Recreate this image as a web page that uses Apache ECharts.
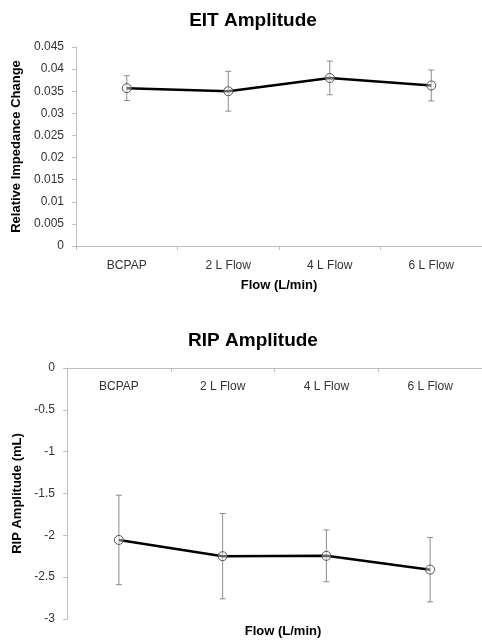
<!DOCTYPE html>
<html>
<head>
<meta charset="utf-8">
<script src="https://cdn.jsdelivr.net/npm/echarts@6/dist/echarts.min.js"></script>
<style>html,body{margin:0;padding:0;background:#fff;}#c{width:482px;height:641px;}</style>
</head>
<body>
<div id="c"></div>
<script>
var categories = ['BCPAP', '2 L Flow', '4 L Flow', '6 L Flow'];
var eitMean = [0.0357, 0.0350, 0.0380, 0.0363];
var eitErr = [0.0028, 0.0045, 0.0038, 0.0035];
var ripMean = [-2.055, -2.249, -2.245, -2.41];
var ripErr = [0.535, 0.51, 0.31, 0.385];
var eitTicks = {min: 0, max: 0.045, interval: 0.005};
var ripTicks = {min: -3, max: 0, interval: 0.5};

var FONT = 'Liberation Sans';
var axisGray = '#bfbfbf';
var labelColor = '#333333';

function errData(mean, err) {
  return mean.map(function (m, i) { return [i, m - err[i], m + err[i]]; });
}
function errRender(params, api) {
  var x = api.value(0);
  var lo = api.coord([x, api.value(1)]);
  var hi = api.coord([x, api.value(2)]);
  var cap = 3;
  var st = {stroke: '#8c8c8c', lineWidth: 1};
  return {
    type: 'group',
    children: [
      {type: 'line', shape: {x1: lo[0], y1: lo[1], x2: hi[0], y2: hi[1]}, style: st},
      {type: 'line', shape: {x1: lo[0] - cap, y1: lo[1], x2: lo[0] + cap, y2: lo[1]}, style: st},
      {type: 'line', shape: {x1: hi[0] - cap, y1: hi[1], x2: hi[0] + cap, y2: hi[1]}, style: st}
    ]
  };
}

var markerStyle = {color: 'rgba(255,255,255,0.4)', borderColor: '#555555', borderWidth: 1};

var chart = echarts.init(document.getElementById('c'), null, {renderer: 'canvas'});
chart.setOption({
  backgroundColor: '#fff',
  animation: false,
  title: [
    {text: 'EIT Amplitude', left: 248, top: 6, textAlign: 'center',
     textStyle: {fontFamily: FONT, fontWeight: 'bold', fontSize: 19, color: '#000'}},
    {text: 'RIP Amplitude', left: 248, top: 326, textAlign: 'center',
     textStyle: {fontFamily: FONT, fontWeight: 'bold', fontSize: 19, color: '#000'}},
    {text: 'Flow (L/min)', left: 278, top: 620, textAlign: 'center',
     textStyle: {fontFamily: FONT, fontWeight: 'bold', fontSize: 13, color: '#000'}}
  ],
  grid: [
    {left: 76, top: 47, width: 406, height: 199},
    {left: 67, top: 368, width: 415, height: 251}
  ],
  xAxis: [
    {type: 'category', gridIndex: 0, data: categories, boundaryGap: true,
     axisLine: {lineStyle: {color: axisGray, width: 1}},
     axisTick: {show: true, length: 4, lineStyle: {color: axisGray}},
     axisLabel: {fontFamily: FONT, fontSize: 12, color: labelColor, margin: 14},
     name: 'Flow (L/min)', nameLocation: 'middle', nameGap: 33,
     nameTextStyle: {fontFamily: FONT, fontWeight: 'bold', fontSize: 13, color: '#000'}},
    {type: 'category', gridIndex: 1, data: categories, boundaryGap: true, position: 'top',
     axisLine: {onZero: false, lineStyle: {color: axisGray, width: 1}},
     axisTick: {show: true, inside: true, length: 4, lineStyle: {color: axisGray}},
     axisLabel: {inside: true, fontFamily: FONT, fontSize: 12, color: labelColor, margin: 13}}
  ],
  yAxis: [
    {type: 'value', gridIndex: 0, min: eitTicks.min, max: eitTicks.max, interval: eitTicks.interval,
     splitLine: {show: false},
     axisLine: {show: true, lineStyle: {color: axisGray}},
     axisTick: {show: true, length: 4, lineStyle: {color: axisGray}},
     axisLabel: {fontFamily: FONT, fontSize: 12, color: labelColor, margin: 12},
     name: 'Relative Impedance Change', nameLocation: 'middle', nameGap: 49,
     nameTextStyle: {fontFamily: FONT, fontWeight: 'bold', fontSize: 13, color: '#000'}},
    {type: 'value', gridIndex: 1, min: ripTicks.min, max: ripTicks.max, interval: ripTicks.interval,
     splitLine: {show: false},
     axisLine: {show: true, lineStyle: {color: axisGray}},
     axisTick: {show: true, length: 4, lineStyle: {color: axisGray}},
     axisLabel: {fontFamily: FONT, fontSize: 12, color: labelColor, margin: 12},
     name: 'RIP Amplitude (mL)', nameLocation: 'middle', nameGap: 40,
     nameTextStyle: {fontFamily: FONT, fontWeight: 'bold', fontSize: 13, color: '#000'}}
  ],
  series: [
    {type: 'custom', xAxisIndex: 0, yAxisIndex: 0, renderItem: errRender, data: errData(eitMean, eitErr), z: 1},
    {type: 'line', xAxisIndex: 0, yAxisIndex: 0, data: eitMean, z: 2,
     lineStyle: {color: '#000', width: 2.5},
     symbol: 'circle', symbolSize: 9, showSymbol: true,
     itemStyle: markerStyle},
    {type: 'custom', xAxisIndex: 1, yAxisIndex: 1, renderItem: errRender, data: errData(ripMean, ripErr), z: 1},
    {type: 'line', xAxisIndex: 1, yAxisIndex: 1, data: ripMean, z: 2,
     lineStyle: {color: '#000', width: 2.5},
     symbol: 'circle', symbolSize: 9, showSymbol: true,
     itemStyle: markerStyle}
  ]
});
</script>
</body>
</html>
